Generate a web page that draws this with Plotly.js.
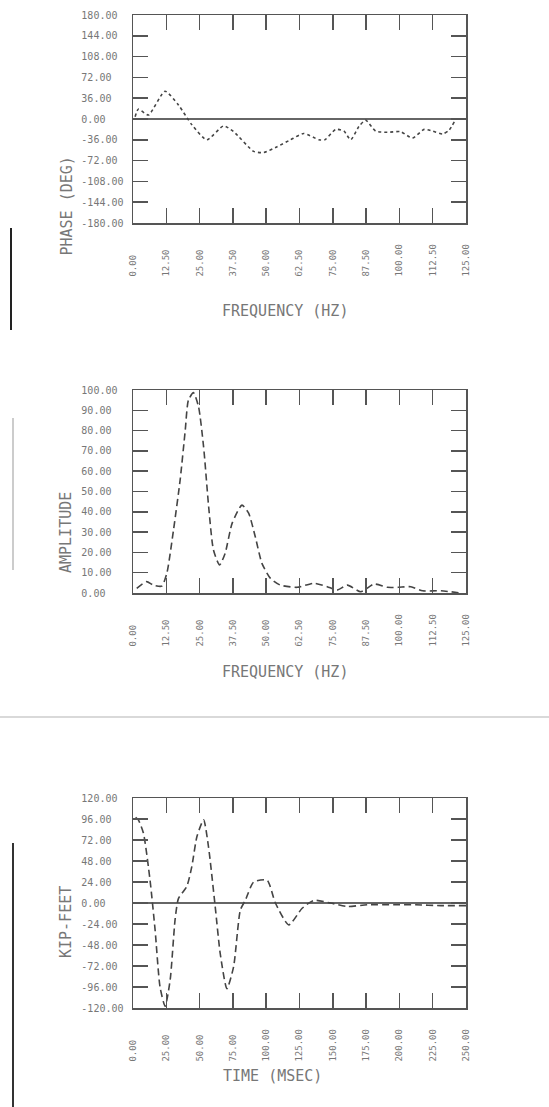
<!DOCTYPE html>
<html>
<head>
<meta charset="utf-8">
<script src="https://cdn.plot.ly/plotly-3.0.1.min.js"></script>
<style>
  html, body { margin: 0; padding: 0; background: #fff; }
  #chart { width: 549px; height: 1107px; }
</style>
</head>
<body>
<div id="chart"></div>
<script>
// Phase spectrum (degrees) against frequency (Hz)
const phaseFreq = [0.8, 2.0, 5.8, 12.0, 17.1, 22.1, 27.7, 34.0, 37.8, 45.3, 49.1, 54.1, 59.1, 64.1, 69.8, 72.0, 76.1, 79.2, 81.7, 84.8, 87.3, 91.1, 95.5, 100.5, 104.9, 109.3, 112.4, 116.2, 118.7, 120.6];
const phaseDeg  = [4, 17, 7, 48, 24, -10, -36, -12, -22, -56, -58, -48, -36, -25, -36, -36, -18, -21, -36, -13, -2, -21, -23, -22, -33, -18, -21, -26, -19, -5];

// Amplitude spectrum against frequency (Hz)
const ampFreq = [1.4, 5.1, 7.6, 10.8, 12.7, 15.2, 17.7, 19.6, 20.8, 22.7, 24.6, 26.5, 28.4, 30.2, 32.5, 34.6, 37.2, 40.9, 43.4, 45.9, 48.4, 51.6, 55.3, 61.6, 67.9, 72.9, 76.7, 80.5, 85.5, 90.5, 95.5, 99.5, 104.3, 108.7, 115.6, 123.1];
const ampVal  = [2.3, 5.6, 3.9, 3.4, 9.7, 31, 55.7, 80, 95, 98.7, 91.8, 72, 42.5, 21.2, 13.8, 19.6, 34.3, 43.3, 39.3, 27.7, 14.6, 7.2, 3.9, 2.8, 4.8, 3.1, 1.5, 3.9, 0.6, 4.4, 2.8, 2.8, 3.1, 1.1, 1.1, 0];

// Time history (msec)
const timeMs  = [2, 4.0, 7.8, 12.8, 16.6, 20.3, 24.1, 27.9, 31.6, 34.1, 40.4, 44.2, 48.0, 53.0, 56.7, 61.7, 65.5, 70.5, 75.5, 80.6, 84.3, 90.6, 100.7, 106.9, 117.0, 127.0, 135.8, 148.3, 160.9, 176.0, 196.0, 212.0, 231.2, 250.0];
const timeVal = [98, 95, 80, 26, -31, -96, -118, -88, -19, 5, 19, 42, 76, 95, 64, -4, -58, -98, -73, -8, 3, 24, 26, 0, -25, -6, 3, 0, -4, -2, -2, -2, -3, -3];

// Tick values for each axis
const freqTicks  = [0, 12.5, 25, 37.5, 50, 62.5, 75, 87.5, 100, 112.5, 125];
const timeTicks  = [0, 25, 50, 75, 100, 125, 150, 175, 200, 225, 250];
const phaseTicks = [-180, -144, -108, -72, -36, 0, 36, 72, 108, 144, 180];
const ampTicks   = [0, 10, 20, 30, 40, 50, 60, 70, 80, 90, 100];
const kipTicks   = [-120, -96, -72, -48, -24, 0, 24, 48, 72, 96, 120];

// Axis titles
const titles = {
  phaseY: 'PHASE (DEG)',
  ampY: 'AMPLITUDE',
  kipY: 'KIP-FEET',
  freqX: 'FREQUENCY (HZ)',
  timeX: 'TIME (MSEC)'
};

// fixed-width labels, padded so they line up on their first character
const NB = '\u00a0';
function labels(vals, width) {
  return vals.map(v => {
    const s = v.toFixed(2);
    return s + NB.repeat(Math.max(0, width - s.length));
  });
}

const W = 549, H = 1107;
const px = (a, b) => [a / W, b / W];
const py = (top, bottom) => [1 - bottom / H, 1 - top / H];

const mono = 'DejaVu Sans Mono, Liberation Mono, monospace';
const inkLine = '#555';
const curveCol = '#444';
const labelCol = '#777';

function xAxis(domain, anchor, ticks, range, width) {
  return {
    domain: domain, anchor: anchor, range: range,
    tickmode: 'array', tickvals: ticks, ticktext: labels(ticks, width),
    tickangle: -90, ticks: 'inside', ticklen: 15, tickwidth: 1.5, tickcolor: '#555',
    showline: true, linecolor: inkLine, linewidth: 1.5, mirror: 'ticks',
    showgrid: false, zeroline: false,
    ticklabelstandoff: 16,
    tickfont: {family: mono, size: 9, color: labelCol}
  };
}
function yAxis(domain, anchor, ticks, range, zero) {
  return {
    domain: domain, anchor: anchor, range: range,
    tickmode: 'array', tickvals: ticks, ticktext: labels(ticks, 7),
    ticks: 'inside', ticklen: 15, tickwidth: 1.5, tickcolor: '#555',
    showline: true, linecolor: inkLine, linewidth: 1.5, mirror: 'ticks',
    showgrid: false, zeroline: zero, zerolinecolor: '#666', zerolinewidth: 1.2,
    ticklabelstandoff: 6,
    tickfont: {family: mono, size: 10, color: labelCol}
  };
}

const xd = px(133, 466);

const traces = [
  {x: phaseFreq, y: phaseDeg, xaxis: 'x', yaxis: 'y', mode: 'lines',
   line: {color: curveCol, width: 1.6, dash: 'dot', shape: 'spline', smoothing: 0.6}},
  {x: ampFreq, y: ampVal, xaxis: 'x2', yaxis: 'y2', mode: 'lines',
   line: {color: curveCol, width: 1.6, dash: '7px,4px', shape: 'spline', smoothing: 0.6}},
  {x: timeMs, y: timeVal, xaxis: 'x3', yaxis: 'y3', mode: 'lines',
   line: {color: curveCol, width: 1.6, dash: '7px,4px', shape: 'spline', smoothing: 0.6}}
];

const titleFont = {family: mono, size: 15, color: labelCol};

const layout = {
  width: W, height: H,
  margin: {l: 0, r: 0, t: 0, b: 0},
  paper_bgcolor: '#fff', plot_bgcolor: '#fff',
  showlegend: false,
  xaxis:  xAxis(xd, 'y',  freqTicks, [0, 125], 6),
  yaxis:  yAxis(py(15, 223),  'x',  phaseTicks, [-180, 180], true),
  xaxis2: xAxis(xd, 'y2', freqTicks, [0, 125], 6),
  yaxis2: yAxis(py(390, 593), 'x2', ampTicks, [0, 100], false),
  xaxis3: xAxis(xd, 'y3', timeTicks, [0, 250], 6),
  yaxis3: yAxis(py(798, 1008), 'x3', kipTicks, [-120, 120], true),
  annotations: [
    {text: titles.phaseY, x: 55 / W, y: 1 - 155 / H, xref: 'paper', yref: 'paper', textangle: -90, showarrow: false, font: titleFont},
    {text: titles.freqX,  x: 285 / W, y: 1 - 300 / H, xref: 'paper', yref: 'paper', showarrow: false, font: titleFont},
    {text: titles.ampY,   x: 55 / W, y: 1 - 533 / H, xref: 'paper', yref: 'paper', textangle: -90, showarrow: false, font: titleFont},
    {text: titles.freqX,  x: 285 / W, y: 1 - 672 / H, xref: 'paper', yref: 'paper', showarrow: false, font: titleFont},
    {text: titles.kipY,   x: 55 / W, y: 1 - 960 / H, xref: 'paper', yref: 'paper', textangle: -90, showarrow: false, font: titleFont},
    {text: titles.timeX,  x: 272 / W, y: 1 - 1087 / H, xref: 'paper', yref: 'paper', showarrow: false, font: titleFont}
  ],
  shapes: [
    // sheet edges and fold between the panels
    {type: 'line', xref: 'paper', yref: 'paper', x0: 11 / W, x1: 11 / W, y0: 1 - 330 / H, y1: 1 - 228 / H, line: {color: '#222', width: 2}},
    {type: 'line', xref: 'paper', yref: 'paper', x0: 13 / W, x1: 13 / W, y0: 1 - 570 / H, y1: 1 - 418 / H, line: {color: '#bbb', width: 1.5}},
    {type: 'line', xref: 'paper', yref: 'paper', x0: 13 / W, x1: 13 / W, y0: 0, y1: 1 - 843 / H, line: {color: '#333', width: 2}},
    {type: 'line', xref: 'paper', yref: 'paper', x0: 0, x1: 1, y0: 1 - 717 / H, y1: 1 - 717 / H, line: {color: '#ccc', width: 1.5}}
  ]
};

Plotly.newPlot('chart', traces, layout, {staticPlot: true, displayModeBar: false});
</script>
</body>
</html>
